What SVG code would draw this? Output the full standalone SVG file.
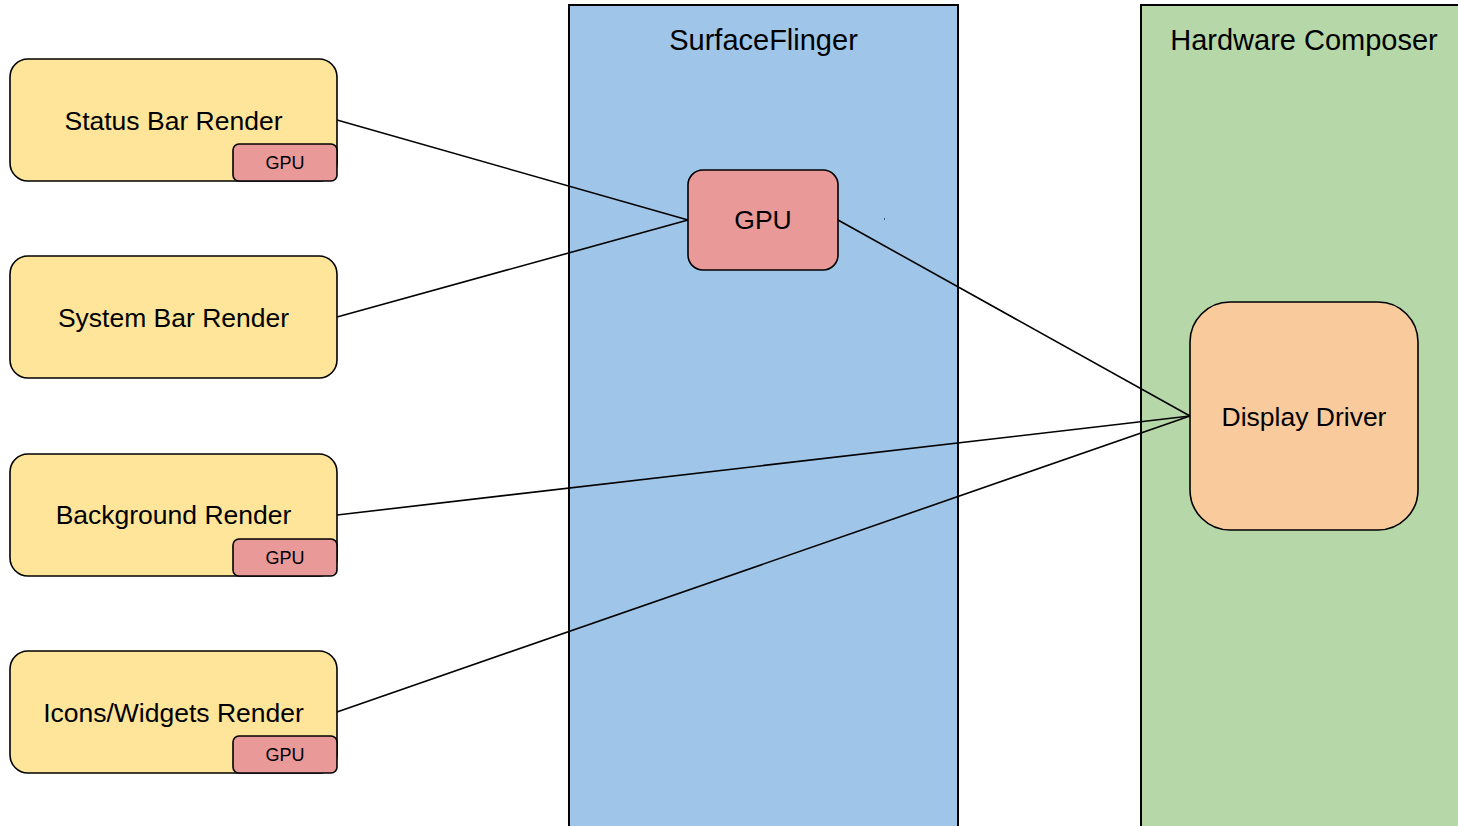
<svg xmlns="http://www.w3.org/2000/svg" width="1458" height="826" viewBox="0 0 1458 826">
  <style>
    text { font-family: "Liberation Sans", Arial, sans-serif; fill: #000; text-anchor: middle; }
    .lane { stroke: #000; stroke-width: 2; }
    .render { fill: #ffe599; stroke: #000; stroke-width: 1.6; }
    .gpu { fill: #ea9999; stroke: #000; stroke-width: 1.6; }
    .driver { fill: #f9cb9c; stroke: #000; stroke-width: 1.6; }
    .label { font-size: 26.5px; }
    .title { font-size: 29px; }
    .small { font-size: 18px; }
    .edge { fill: none; stroke: #000; stroke-width: 1.6; }
  </style>
  <rect width="1458" height="826" fill="#fff"/>

  <!-- swimlanes -->
  <g id="lane-surfaceflinger">
    <rect class="lane" x="569" y="5" width="389" height="830" fill="#9fc5e8"/>
    <text class="title" x="763.5" y="50">SurfaceFlinger</text>
  </g>
  <g id="lane-hwc">
    <rect class="lane" x="1141" y="5" width="330" height="830" fill="#b6d7a8"/>
    <text class="title" x="1304" y="50">Hardware Composer</text>
  </g>

  <!-- connectors -->
  <g id="connectors">
    <line class="edge" x1="337" y1="120" x2="688" y2="220"/>
    <line class="edge" x1="337" y1="317" x2="688" y2="220"/>
    <line class="edge" x1="838" y1="220" x2="1190" y2="416"/>
    <line class="edge" x1="337" y1="515" x2="1190" y2="416"/>
    <line class="edge" x1="337" y1="712" x2="1190" y2="416"/>
  </g>

  <!-- render sources -->
  <g id="status-bar">
    <rect class="render" x="10" y="59" width="327" height="122" rx="18"/>
    <text class="label" x="173.5" y="130">Status Bar Render</text>
    <rect class="gpu" x="233" y="144" width="104" height="37" rx="6"/>
    <text class="small" x="285" y="168.5">GPU</text>
  </g>
  <g id="system-bar">
    <rect class="render" x="10" y="256" width="327" height="122" rx="18"/>
    <text class="label" x="173.5" y="327">System Bar Render</text>
  </g>
  <g id="background">
    <rect class="render" x="10" y="454" width="327" height="122" rx="18"/>
    <text class="label" x="173.5" y="524">Background Render</text>
    <rect class="gpu" x="233" y="539" width="104" height="37" rx="6"/>
    <text class="small" x="285" y="563.5">GPU</text>
  </g>
  <g id="icons-widgets">
    <rect class="render" x="10" y="651" width="327" height="122" rx="18"/>
    <text class="label" x="173.5" y="722">Icons/Widgets Render</text>
    <rect class="gpu" x="233" y="736" width="104" height="37" rx="6"/>
    <text class="small" x="285" y="761">GPU</text>
  </g>

  <!-- compositor GPU -->
  <g id="sf-gpu">
    <rect class="gpu" x="688" y="170" width="150" height="100" rx="15"/>
    <text class="label" x="763" y="229">GPU</text>
  </g>
  <rect x="884" y="218" width="1" height="2" fill="#3c5a78"/>

  <!-- display driver -->
  <g id="display-driver">
    <rect class="driver" x="1190" y="302" width="228" height="228" rx="40"/>
    <text class="label" x="1304" y="426">Display Driver</text>
  </g>
</svg>
